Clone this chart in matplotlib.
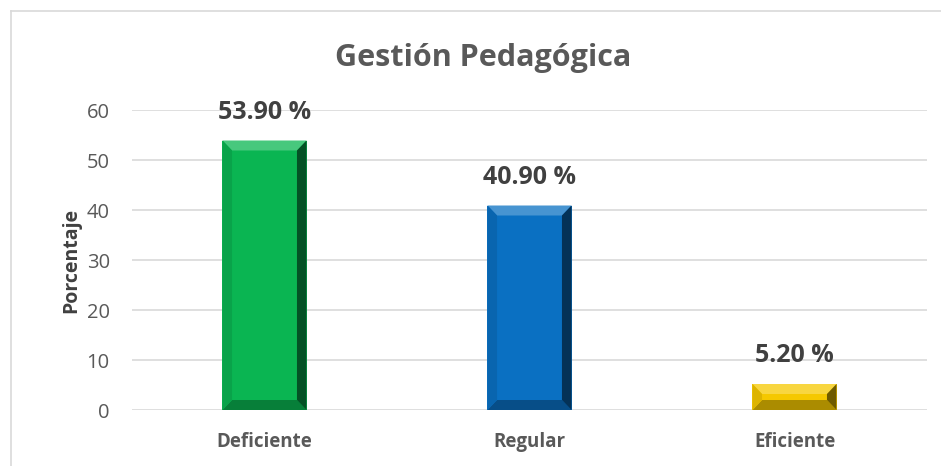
import matplotlib
matplotlib.use("Agg")
import matplotlib.pyplot as plt
from matplotlib.patches import Polygon, Rectangle
import matplotlib.colors as mcolors

categories = ["Deficiente", "Regular", "Eficiente"]
values = [53.9, 40.9, 5.2]
labels = ["53.90 %", "40.90 %", "5.20 %"]
colors = ["#0ab552", "#0a70c2", "#f5c800"]

plt.rcParams["font.family"] = ["Open Sans", "DejaVu Sans"]

fig = plt.figure(figsize=(9.41, 4.66), dpi=100)
ax = fig.add_axes([132 / 941, 1 - 410 / 466, 795 / 941, 300 / 466])

# chart border (left and top visible)
fig.add_artist(plt.Line2D([11 / 941, 11 / 941], [0, 1 - 11 / 466], transform=fig.transFigure,
                          color="#d9d9d9", lw=1.2))
fig.add_artist(plt.Line2D([11 / 941, 1], [1 - 11 / 466, 1 - 11 / 466], transform=fig.transFigure,
                          color="#d9d9d9", lw=1.2))

ax.set_xlim(-0.5, 2.5)
ax.set_ylim(0, 60)
ax.set_yticks(range(0, 61, 10))
ax.yaxis.grid(True, color="#d9d9d9", lw=1.2)
ax.set_axisbelow(True)
for s in ax.spines.values():
    s.set_visible(False)
ax.tick_params(axis="y", length=0, labelsize=14.5, labelcolor="#595959", pad=16)
ax.tick_params(axis="x", length=0, labelsize=13.5, labelcolor="#595959", pad=16)
ax.set_xticks(range(len(categories)))
ax.set_xticklabels(categories, fontweight="bold")
ax.set_ylabel("Porcentaje", fontsize=14, fontweight="bold", color="#404040", labelpad=4)

width = 0.317
bx = 0.036   # bevel in x (data units)
by = 2.0     # bevel in y (data units)


def shade(c, f):
    r, g, b = mcolors.to_rgb(c)
    if f >= 0:
        return (r + (1 - r) * f, g + (1 - g) * f, b + (1 - b) * f)
    return (r * (1 + f), g * (1 + f), b * (1 + f))


for i, (v, c) in enumerate(zip(values, colors)):
    x0, x1 = i - width / 2, i + width / 2
    ax.add_patch(Rectangle((x0, 0), width, v, facecolor=c, edgecolor="none", zorder=3))
    byy = min(by, v * 0.4)
    # top bevel
    ax.add_patch(Polygon([(x0, v), (x1, v), (x1 - bx, v - byy), (x0 + bx, v - byy)],
                         facecolor=shade(c, 0.25), edgecolor="none", zorder=4))
    # bottom bevel
    ax.add_patch(Polygon([(x0, 0), (x1, 0), (x1 - bx, byy), (x0 + bx, byy)],
                         facecolor=shade(c, -0.3), edgecolor="none", zorder=4))
    # left bevel
    ax.add_patch(Polygon([(x0, 0), (x0, v), (x0 + bx, v - byy), (x0 + bx, byy)],
                         facecolor=shade(c, -0.1), edgecolor="none", zorder=4))
    # right bevel
    ax.add_patch(Polygon([(x1, 0), (x1, v), (x1 - bx, v - byy), (x1 - bx, byy)],
                         facecolor=shade(c, -0.55), edgecolor="none", zorder=4))
    ax.text(i, v + 5.6, labels[i], ha="center", va="center", fontsize=18,
            fontweight="bold", color="#404040", zorder=5)

fig.text(483 / 941, 1 - 58 / 466, "Gestión Pedagógica", ha="center", va="center",
         fontsize=22, fontweight="bold", color="#595959")

fig.savefig("out.png", dpi=100)
